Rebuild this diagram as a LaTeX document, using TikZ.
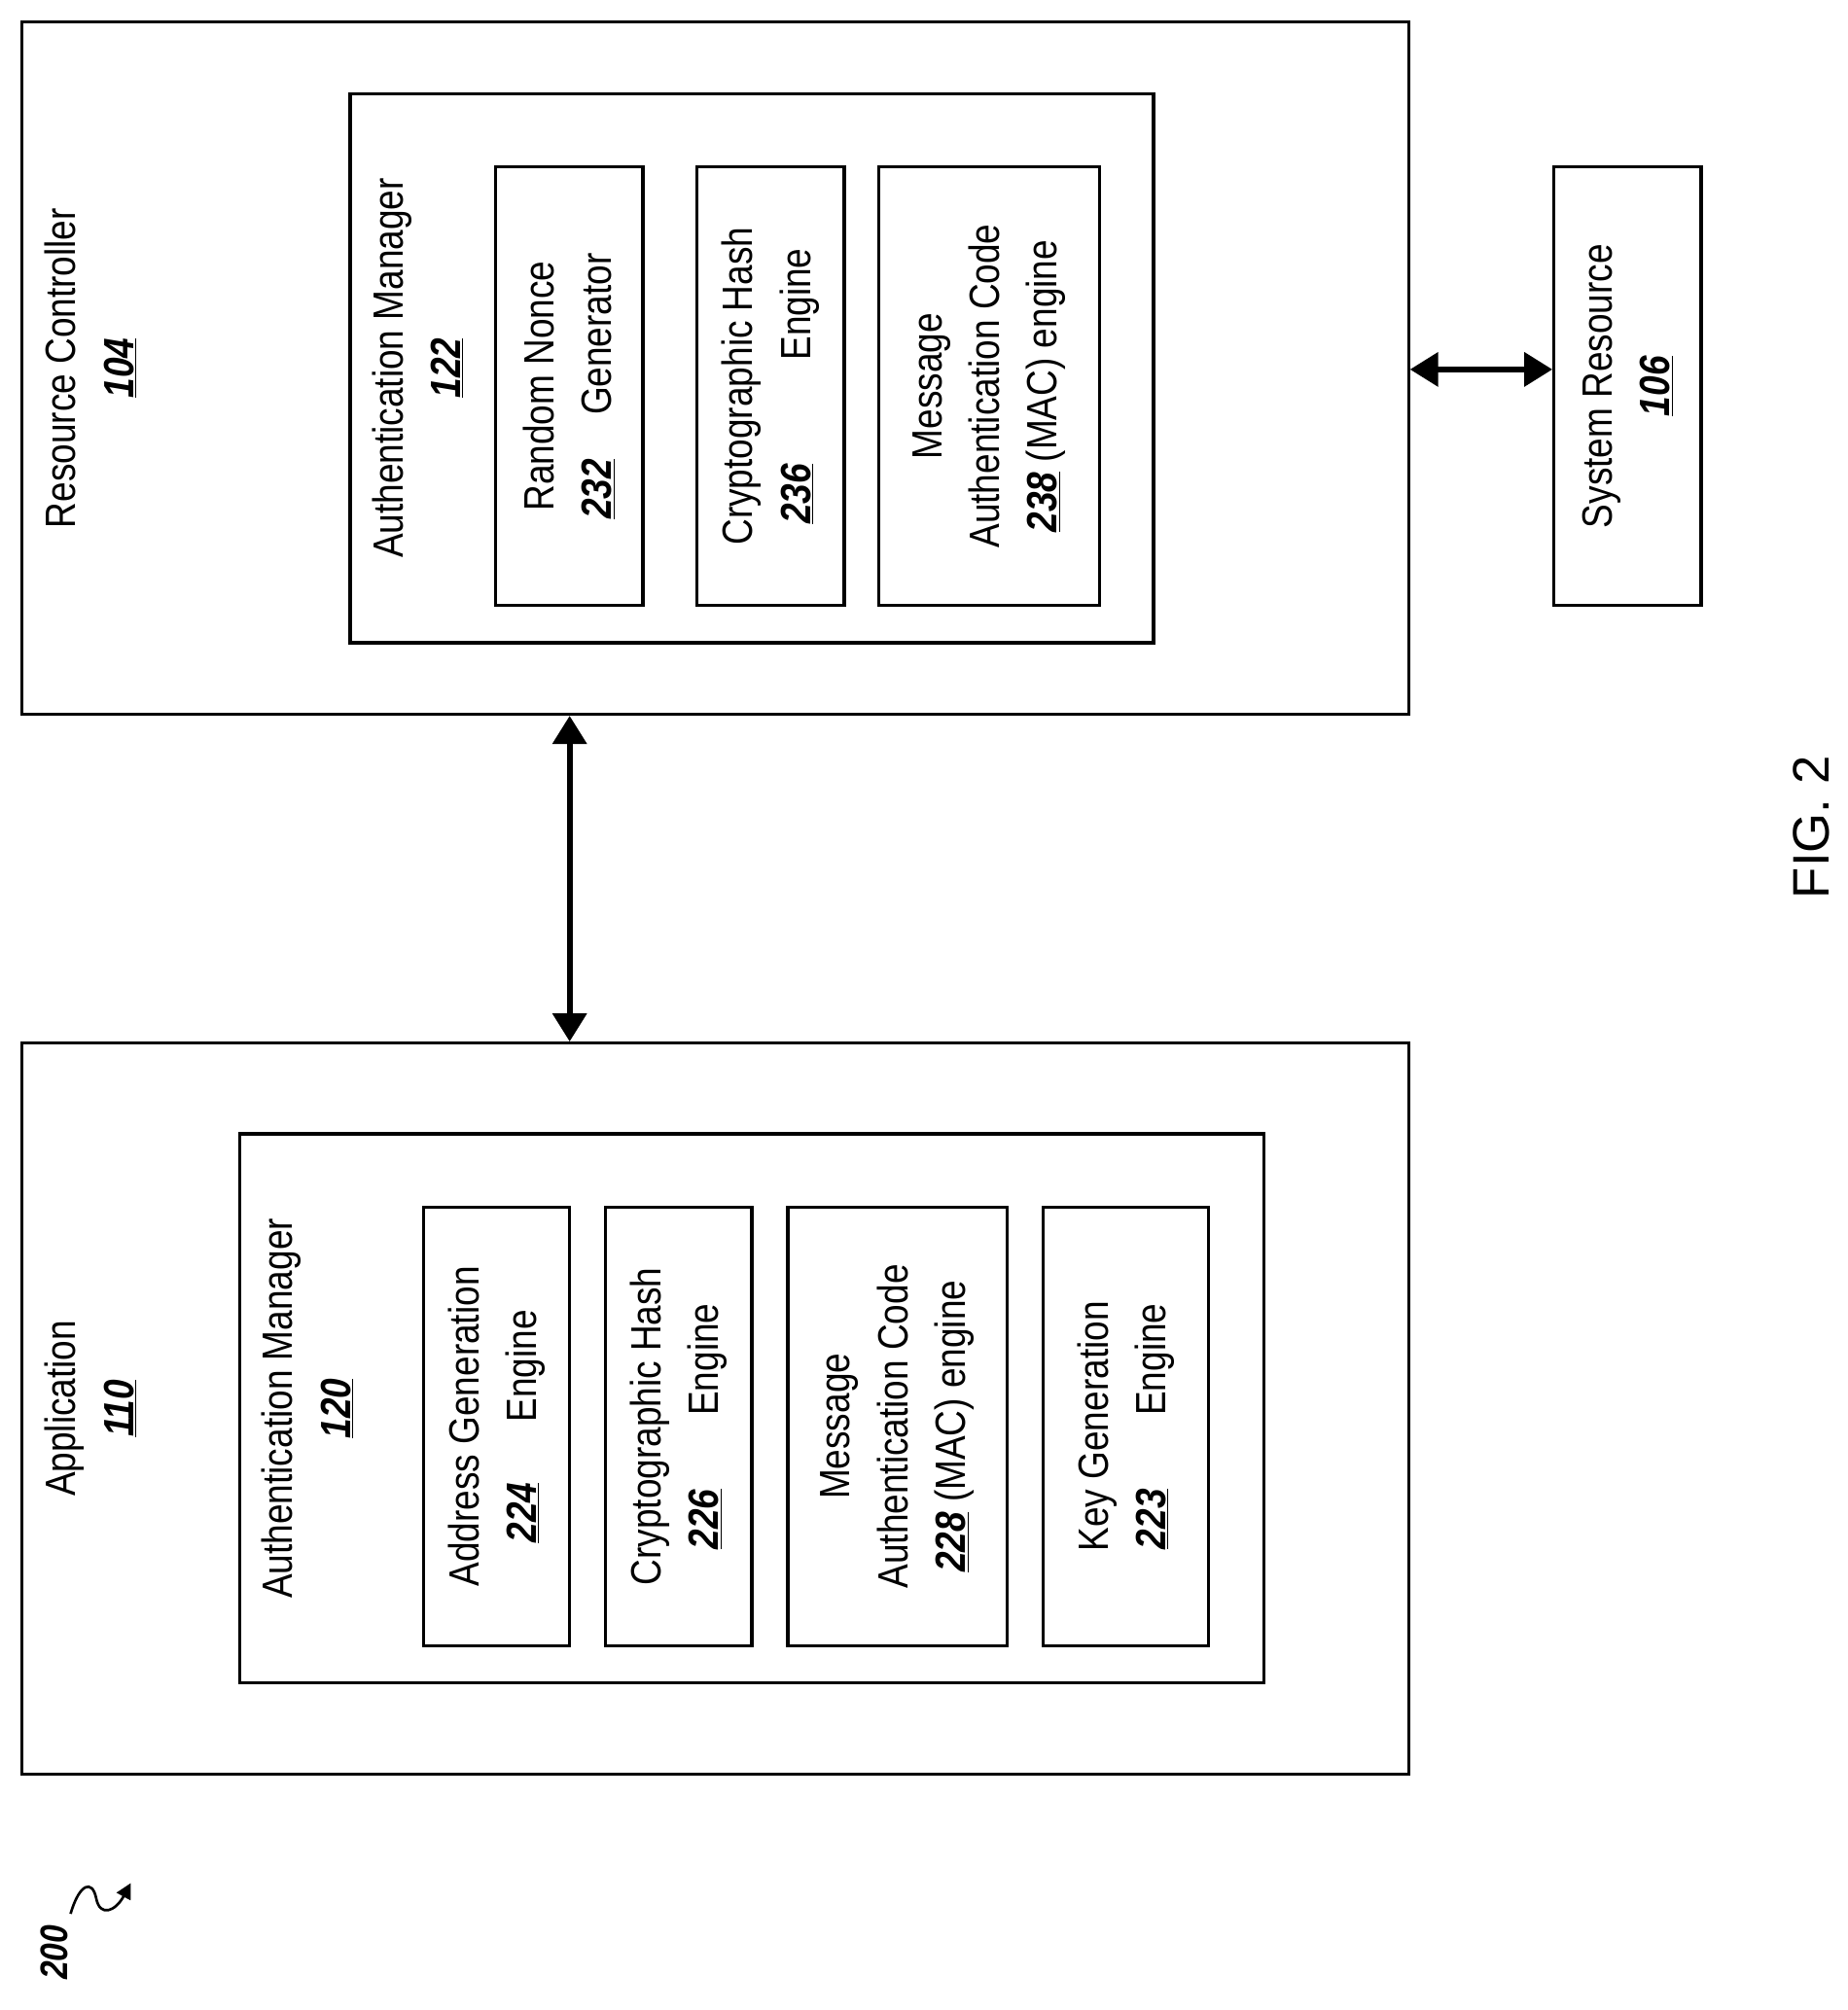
\documentclass[tikz,border=0pt]{standalone}
\usepackage{fontspec}
\setmainfont{Liberation Sans}[FakeStretch=0.85]
\newfontfamily\figfont{Liberation Sans}
\usetikzlibrary{arrows.meta}
\newcommand{\nm}[1]{\underline{\textbf{\textit{#1}}}}
\begin{document}
\begin{tikzpicture}[x=1pt,y=-1pt,
  box/.style={draw,line width=2.5pt},
  lbl/.style={rotate=90,anchor=north,align=center,font=\fontsize{33}{45}\selectfont,inner sep=0pt},
  ctr/.style={rotate=90,align=center,font=\fontsize{33}{45}\selectfont,inner sep=0pt},
  arr/.style={line width=4.5pt,{Triangle[length=22pt,width=26pt]}-{Triangle[length=22pt,width=26pt]},shorten <=1pt,shorten >=1pt}]
\useasboundingbox (0,0) rectangle (1440,1567);
% Resource controller
\draw[box] (17,17) rectangle (1098,557);
\coordinate (rcR) at (1098,288); \coordinate (rcB) at (444,557);
\node[lbl] (rc) at (35,287) {Resource Controller\\\nm{104}};
\draw[box] (273,73) rectangle (899,501);
\node[lbl] (am122) at (290,287) {Authentication Manager\\\nm{122}};
\draw[box] (386,130) rectangle (501,472);
\node[ctr] (rn) at (443.5,301) {Random Nonce\\\nm{232}\hspace{0.8em} Generator};
\draw[box] (543,130) rectangle (658,472);
\node[ctr] (ch236) at (600.5,301) {Cryptographic Hash\\\nm{236}\hspace{2.2em} Engine\hspace{1.5em}};
\draw[box] (685,130) rectangle (857,472);
\node[ctr] (mac238) at (771,301) {Message\\Authentication Code\\\nm{238} (MAC) engine};
% System resource
\draw[box] (1211,130) rectangle (1326,472);
\coordinate (srL) at (1211,288);
\node[ctr] (sr) at (1268.5,301) {System Resource\\\nm{106}};
\draw[arr] (rcR) -- (srL);
% Application
\draw[box] (17,813) rectangle (1098,1383);
\coordinate (apT) at (444,813);
\draw[arr] (rcB) -- (apT);
\node[lbl] (app) at (35,1098) {Application\\\nm{110}};
\draw[box] (187,884) rectangle (985,1312);
\node[lbl] (am120) at (204,1098) {Authentication Manager\\\nm{120}};
\draw[box] (330,941) rectangle (444,1283);
\node[ctr] (ag) at (387,1112) {Address Generation\\\nm{224}\hspace{1.2em} Engine\hspace{1em}};
\draw[box] (472,941) rectangle (586,1283);
\node[ctr] (ch226) at (529,1112) {Cryptographic Hash\\\nm{226}\hspace{1.5em} Engine\hspace{1.2em}};
\draw[box] (614,941) rectangle (785,1283);
\node[ctr] (mac228) at (699.5,1112) {Message\\Authentication Code\\\nm{228} (MAC) engine};
\draw[box] (813,941) rectangle (942,1283);
\node[ctr] (kg) at (877.5,1112) {Key Generation\\\nm{223}\hspace{1.5em} Engine\hspace{0.5em}};
% FIG
\node[rotate=90,font=\figfont\fontsize{40}{48}\selectfont] (fig) at (1412,645) {FIG. 2};
\node[rotate=90,font=\fontsize{30}{36}\selectfont\bfseries\itshape,inner sep=0pt] (n200) at (42,1522) {200};
\coordinate (sqE) at (102,1468);
\draw[line width=2pt,-{Triangle[length=12pt,width=12pt]}] (55,1492) .. controls (62,1468) and (72,1465) .. (75,1480) .. controls (78,1495) and (90,1490) .. (sqE);
\end{tikzpicture}
\end{document}
